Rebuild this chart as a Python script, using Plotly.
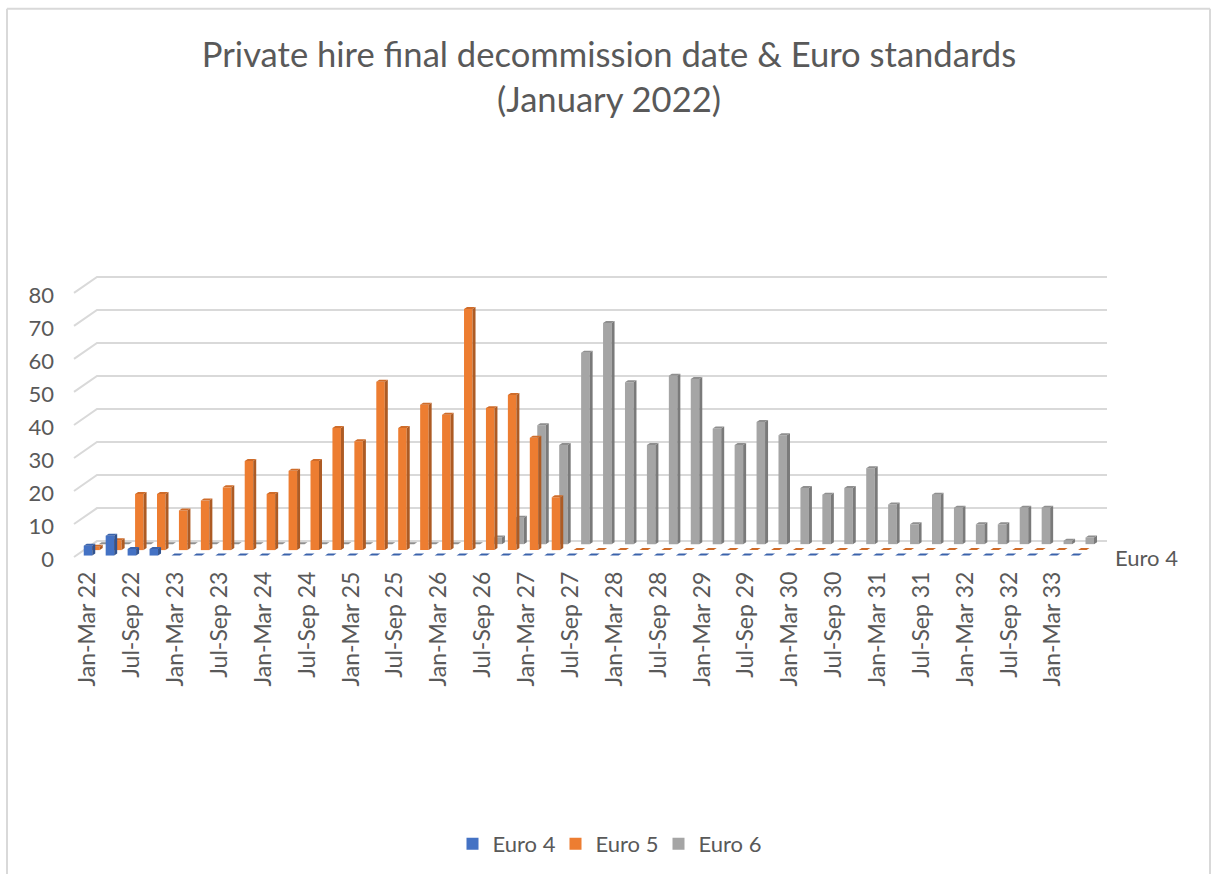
import numpy as np
import plotly.graph_objects as go

years = list(range(22, 34))
quarters = ["Jan-Mar", "Apr-Jun", "Jul-Sep", "Oct-Dec"]
categories = [f"{q} {y}" for y in years for q in quarters][:46]
euro4 = [3, 6, 2, 2] + [0] * 42
euro5 = [1, 3, 17, 17, 12, 15, 19, 27, 17, 24, 27, 37, 33, 51, 37, 44, 41, 73, 43, 47, 34, 16] + [0] * 24
euro6 = [0] * 18 + [2, 8, 36, 30, 58, 67, 49, 30, 51, 50, 35, 30, 37, 33, 17, 15, 17, 23, 12, 6, 15, 11, 6, 6, 11, 11, 1, 2]
tick_values = [0, 10, 20, 30, 40, 50, 60, 70, 80]

FONT = "Lato"
GREY = "#595959"
W, H = 1213, 876
PLOT_L, PLOT_R, PLOT_T, PLOT_B = 55, 1190, 258, 567
X0_PX, X_STEP = 88.0, 21.93
Y0_PX, Y_STEP = 558.0, 3.3125
xrange_ = [(PLOT_L - X0_PX) / X_STEP, (PLOT_R - X0_PX) / X_STEP]
yrange_ = [(Y0_PX - PLOT_B) / Y_STEP, (Y0_PX - PLOT_T) / Y_STEP]
DX, DY = 3 / X_STEP, 2 / Y_STEP
BAR_W = 8.5 / X_STEP

series = [
    ("Euro 4", euro4, 0.0, 0.45, "#4472C4", "#32538F", "#3B63AB", 3),
    ("Euro 5", euro5, 0.34, 2.1, "#ED7D31", "#AD5B24", "#CF6C2A", 2),
    ("Euro 6", euro6, 0.68, 3.9, "#A5A5A5", "#7A7A7A", "#8F8F8F", 1),
]

fig = go.Figure()

gx, gy = [], []
back_dx, back_dy = 23 / X_STEP, 16 / Y_STEP
x_front = (74 - X0_PX) / X_STEP
x_end = (1107 - X0_PX) / X_STEP
for v in tick_values:
    gx += [x_front, x_front + back_dx, x_end, None]
    gy += [v, v + back_dy, v + back_dy, None]
fig.add_trace(go.Scatter(x=gx, y=gy, mode="lines", line=dict(color="#D9D9D9", width=2),
                         showlegend=False, hoverinfo="skip", zorder=0))

for name, vals, off, base, col, side, top, z in series:
    idx = np.arange(len(vals)) + off
    v = np.array(vals, dtype=float)
    fig.add_trace(go.Bar(x=idx, y=v, base=[base] * len(v), width=BAR_W, name=name,
                         marker=dict(color=col, line=dict(width=0)), zorder=z))
    sx, sy, tx, ty = [], [], [], []
    for xc, val in zip(idx, v):
        xl, xr = xc - BAR_W / 2, xc + BAR_W / 2
        t = base + val
        tx += [xl, xr, xr + DX, xl + DX, xl, None]
        ty += [t, t, t + DY, t + DY, t, None]
        if val > 0:
            sx += [xr, xr + DX, xr + DX, xr, xr, None]
            sy += [base, base + DY, t + DY, t, base, None]
    fig.add_trace(go.Scatter(x=sx, y=sy, mode="lines", fill="toself", fillcolor=side,
                             line=dict(width=0, color=side), showlegend=False,
                             hoverinfo="skip", zorder=z))
    fig.add_trace(go.Scatter(x=tx, y=ty, mode="lines", fill="toself", fillcolor=top,
                             line=dict(width=0, color=top), showlegend=False,
                             hoverinfo="skip", zorder=z))

fig.add_annotation(x=(1113 - X0_PX) / X_STEP, y=0, text="Euro 4", showarrow=False, xanchor="left",
                   xshift=0, font=dict(family=FONT, size=22, color=GREY))

plot_h = PLOT_B - PLOT_T
plot_w = PLOT_R - PLOT_L
border_top = (PLOT_B - 8) / plot_h
border_bottom = -(H - PLOT_B) / plot_h
border_left = (7 - PLOT_L) / plot_w
border_right = (1210 - PLOT_L) / plot_w
border = dict(color="#D9D9D9", width=2)
fig.update_layout(
    width=W, height=H, autosize=False,
    paper_bgcolor="white", plot_bgcolor="rgba(0,0,0,0)",
    barmode="overlay",
    margin=dict(l=PLOT_L, r=W - PLOT_R, t=PLOT_T, b=H - PLOT_B, pad=0),
    title=dict(text="Private hire final decommission date & Euro standards<br>(January 2022)",
               x=609 / W, xanchor="center", y=1 - 67 / H, yanchor="middle",
               font=dict(family=FONT, size=34.6, color=GREY)),
    legend=dict(orientation="h", x=(607 - PLOT_L) / plot_w, xanchor="center",
                y=-(844 - PLOT_B) / plot_h, yanchor="middle", entrywidth=58, entrywidthmode="pixels",
                traceorder="normal", font=dict(family=FONT, size=22, color=GREY)),
    xaxis=dict(range=xrange_, tickmode="array", tickvals=list(range(0, 46, 2)),
               ticktext=categories[0:46:2], tickangle=-90, showgrid=False, zeroline=False,
               showline=False, ticks="", tickfont=dict(family=FONT, size=23, color=GREY)),
    yaxis=dict(range=yrange_, tickmode="array", tickvals=tick_values, showgrid=False, zeroline=False,
               showline=False, ticks="", ticklabelshift=2, tickfont=dict(family=FONT, size=22, color=GREY)),
    shapes=[
        dict(type="line", xref="paper", yref="paper", x0=border_left, x1=border_left,
             y0=border_bottom, y1=border_top, line=border),
        dict(type="line", xref="paper", yref="paper", x0=border_right, x1=border_right,
             y0=border_bottom, y1=border_top, line=border),
        dict(type="line", xref="paper", yref="paper", x0=border_left, x1=border_right,
             y0=border_top, y1=border_top, line=border),
    ],
)
fig.write_html("out.html", post_script="document.body.style.margin='0';", config=dict(displayModeBar=False))
